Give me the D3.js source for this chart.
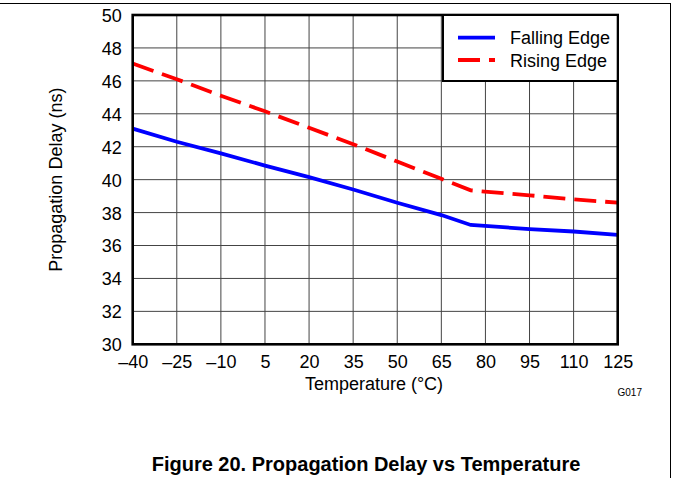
<!DOCTYPE html>
<html><head><meta charset="utf-8">
<script src="https://cdn.jsdelivr.net/npm/d3@7"></script>
<style>html,body{margin:0;padding:0;background:#fff;}svg{display:block;font-family:"Liberation Sans",Arial,sans-serif;}</style>
</head><body>
<script>
const temps = [-40, -25, -10, 5, 20, 35, 50, 65, 75, 95, 110, 125];
const fallingEdge = [43.1, 42.3, 41.6, 40.85, 40.15, 39.4, 38.6, 37.85, 37.25, 37.0, 36.85, 36.65];
const risingEdge = [47.05, 46.1, 45.1, 44.15, 43.15, 42.15, 41.1, 40.05, 39.35, 39.05, 38.8, 38.6];
const xTicks = [-40, -25, -10, 5, 20, 35, 50, 65, 80, 95, 110, 125];
const yTicks = [30, 32, 34, 36, 38, 40, 42, 44, 46, 48, 50];
const seriesNames = ["Falling Edge", "Rising Edge"];

const W = 673, H = 478;
const L = 132.7, R = 617.7, T = 15, B = 344.3;
const svg = d3.select("body").append("svg").attr("width", W).attr("height", H);

// page frame
svg.append("line").attr("x1", 0).attr("x2", 671).attr("y1", 3.5).attr("y2", 3.5).attr("stroke", "#000").attr("stroke-width", 1);
svg.append("line").attr("x1", 670.5).attr("x2", 670.5).attr("y1", 3).attr("y2", H).attr("stroke", "#000").attr("stroke-width", 1);

const x = d3.scaleLinear().domain([-40, 125]).range([L, R]);
const y = d3.scaleLinear().domain([30, 50]).range([B, T]);

// grid
const g = svg.append("g");
g.selectAll(".vg").data(xTicks.slice(1, -1)).enter().append("line")
  .attr("x1", d => x(d)).attr("x2", d => x(d)).attr("y1", T).attr("y2", B)
  .attr("stroke", "#444").attr("stroke-width", 1);
g.selectAll(".hg").data(yTicks.slice(1, -1)).enter().append("line")
  .attr("x1", L).attr("x2", R).attr("y1", d => y(d)).attr("y2", d => y(d))
  .attr("stroke", "#444").attr("stroke-width", 1);

// lines
const line = d3.line().x((d, i) => x(temps[i])).y(d => y(d));
svg.append("path").datum(risingEdge).attr("d", line).attr("fill", "none")
  .attr("stroke", "#ff0000").attr("stroke-width", 3.8).attr("stroke-dasharray", "22,9");
svg.append("path").datum(fallingEdge).attr("d", line).attr("fill", "none")
  .attr("stroke", "#0000ff").attr("stroke-width", 3.8);

// frame
svg.append("rect").attr("x", L).attr("y", T).attr("width", R - L).attr("height", B - T)
  .attr("fill", "none").attr("stroke", "#000").attr("stroke-width", 2.6);

// axes (labels only)
const fs = 18;
const xAxis = d3.axisBottom(x).tickValues(xTicks).tickSize(0).tickPadding(0)
  .tickFormat(d => (d < 0 ? "\u2013" + Math.abs(d) : String(d)));
const xa = svg.append("g").attr("transform", `translate(0,${B})`).call(xAxis);
xa.select(".domain").remove();
xa.selectAll("text").attr("dy", null).attr("y", 24).attr("font-size", fs)
  .attr("font-family", "Liberation Sans, Arial, sans-serif").attr("fill", "#000");

const yAxis = d3.axisLeft(y).tickValues(yTicks).tickSize(0).tickPadding(0);
const ya = svg.append("g").attr("transform", `translate(${L - 11},0)`).call(yAxis);
ya.select(".domain").remove();
ya.selectAll("text").attr("dy", "0.36em").attr("x", 0).attr("font-size", fs)
  .attr("font-family", "Liberation Sans, Arial, sans-serif").attr("fill", "#000");

// axis titles
svg.append("text").attr("x", 374).attr("y", 390).attr("text-anchor", "middle")
  .attr("font-size", fs).text("Temperature (°C)");
svg.append("text").attr("transform", `translate(62,${(T + B) / 2}) rotate(-90)`)
  .attr("text-anchor", "middle").attr("font-size", fs).text("Propagation Delay (ns)");
svg.append("text").attr("x", 642).attr("y", 396).attr("text-anchor", "end")
  .attr("font-size", 10).text("G017");

// legend
const lg = svg.append("g");
lg.append("rect").attr("x", 443).attr("y", T).attr("width", R - 443).attr("height", 66)
  .attr("fill", "#fff").attr("stroke", "#000").attr("stroke-width", 2);
const legY = [37.7, 60];
const legStyle = [{c: "#0000ff", dash: null}, {c: "#ff0000", dash: "22,9"}];
seriesNames.forEach((n, i) => {
  lg.append("line").attr("x1", 458).attr("x2", 495).attr("y1", legY[i]).attr("y2", legY[i])
    .attr("stroke", legStyle[i].c).attr("stroke-width", 3.8).attr("stroke-dasharray", legStyle[i].dash);
  lg.append("text").attr("x", 510).attr("y", legY[i] + 6.5).attr("font-size", fs).text(n);
});

// caption
svg.append("text").attr("x", 366).attr("y", 471).attr("text-anchor", "middle")
  .attr("font-size", 20).attr("font-weight", "bold").text("Figure 20. Propagation Delay vs Temperature");
</script>
</body></html>
